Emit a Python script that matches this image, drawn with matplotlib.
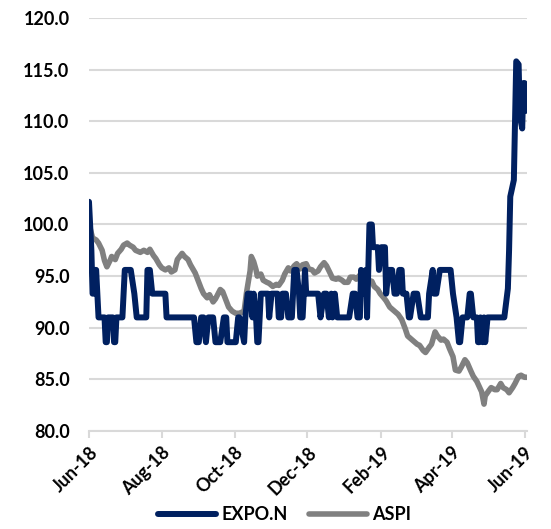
import pandas as pd
import matplotlib
matplotlib.use("Agg")
import matplotlib.pyplot as plt
import matplotlib.dates as mdates

plt.rcParams["font.family"] = ["Lato", "DejaVu Sans"]
plt.rcParams["font.weight"] = "bold"

START = pd.Timestamp("2018-06-01")

# EXPO.N price, days since 1 Jun 2018
expo_day = [0, 2, 3, 4, 5, 6, 7, 8, 13, 14, 15, 16, 20, 21, 22, 23, 28, 30, 35, 38,
            40, 48, 49, 51, 53, 64, 65, 88, 90, 92, 94, 96, 98, 100, 104, 106, 110, 113,
            115, 116, 123, 125, 126, 130, 131, 133, 136, 137, 138, 140, 141, 142, 144,
            150, 151, 153, 158, 159, 161, 162, 165, 167, 168, 170, 172, 174, 176, 177,
            179, 181, 182, 192, 194, 197, 199, 201, 203, 204, 206, 208, 216, 218, 221,
            223, 225, 227, 228, 230, 232, 233, 235, 237, 238, 242, 243, 245, 248, 249,
            251, 254, 256, 258, 260, 262, 263, 266, 268, 269, 272, 275, 278, 284, 285,
            288, 289, 291, 294, 303, 305, 308, 310, 311, 313, 317, 319, 320, 322, 325,
            326, 327, 328, 330, 331, 332, 334, 348, 351, 352, 353, 356, 357, 358, 360,
            361, 363, 364, 365, 366, 367]
expo_val = [102.2, 97.5, 93.3, 93.3, 95.6, 95.6, 93.3, 91.0, 91.0, 88.6, 88.6, 91.0,
            91.0, 88.6, 88.6, 91.0, 91.0, 95.6, 95.6, 93.3, 91.0, 91.0, 95.6, 95.6,
            93.3, 93.3, 91.0, 91.0, 88.6, 88.6, 91.0, 91.0, 88.6, 91.0, 91.0, 88.6,
            88.6, 91.0, 91.0, 88.6, 88.6, 91.0, 91.0, 88.6, 91.0, 93.3, 93.3, 91.0,
            93.3, 91.0, 88.6, 88.6, 93.3, 93.3, 91.0, 93.3, 93.3, 91.0, 91.0, 93.3,
            93.3, 91.0, 91.0, 91.0, 95.6, 95.6, 93.3, 91.0, 91.0, 95.6, 93.3, 93.3,
            91.0, 93.3, 93.3, 91.0, 93.3, 91.0, 93.3, 91.0, 91.0, 91.0, 93.3, 93.3,
            91.0, 91.0, 95.6, 93.3, 95.6, 91.0, 100.0, 100.0, 97.8, 97.8, 95.6, 97.8,
            97.8, 93.3, 95.6, 95.6, 93.3, 93.3, 95.6, 95.6, 93.3, 93.3, 91.0, 91.0,
            93.3, 93.3, 91.0, 91.0, 93.3, 95.6, 93.3, 93.3, 95.6, 95.6, 93.3, 91.0,
            88.6, 88.6, 91.0, 91.0, 93.3, 93.3, 91.0, 91.0, 88.6, 88.6, 91.0, 88.6,
            91.0, 88.6, 91.0, 91.0, 93.8, 97.5, 102.7, 104.3, 110.0, 115.8, 115.5,
            110.5, 109.3, 113.7, 113.7, 111.0, 113.5]

# ASPI, rebased, days since 1 Jun 2018
aspi_day = [0, 1, 3, 6, 8, 11, 13, 15, 18, 19, 22, 24, 27, 29, 32, 34, 37, 39, 43, 46,
            49, 51, 54, 56, 59, 61, 64, 67, 69, 72, 74, 78, 80, 83, 85, 89, 91, 94, 96,
            99, 101, 104, 106, 110, 112, 115, 117, 120, 123, 126, 130, 132, 135, 136,
            138, 140, 141, 144, 146, 149, 151, 154, 157, 159, 162, 164, 167, 169, 172,
            174, 177, 179, 182, 184, 187, 189, 192, 194, 197, 199, 202, 204, 207, 209,
            212, 214, 217, 219, 222, 224, 227, 229, 232, 234, 237, 239, 242, 244, 247,
            249, 252, 254, 257, 259, 262, 265, 267, 270, 272, 275, 277, 280, 282, 285,
            287, 290, 292, 295, 297, 300, 302, 305, 307, 310, 312, 315, 317, 320, 322,
            325, 327, 329, 331, 332, 335, 337, 340, 342, 345, 347, 350, 352, 355, 357,
            360, 362, 365, 367]
aspi_val = [100.0, 99.6, 98.7, 98.5, 98.2, 97.5, 96.5, 95.9, 96.6, 96.9, 96.6, 97.2,
            97.6, 98.0, 98.2, 98.0, 97.8, 97.5, 97.3, 97.5, 97.3, 97.6, 97.0, 96.7,
            96.1, 95.8, 95.6, 95.8, 95.4, 95.6, 96.6, 97.2, 96.9, 96.6, 96.1, 95.3,
            94.7, 93.8, 93.3, 92.9, 93.2, 92.5, 92.8, 93.7, 93.5, 92.6, 92.0, 91.6,
            91.4, 91.4, 91.6, 93.4, 95.5, 96.9, 96.4, 95.6, 95.0, 95.2, 94.6, 94.4,
            94.3, 94.0, 94.2, 94.1, 94.6, 95.2, 95.8, 95.5, 96.0, 96.2, 95.7, 96.1,
            96.2, 95.7, 95.6, 95.3, 95.5, 95.9, 96.3, 96.0, 95.3, 94.8, 94.7, 94.8,
            94.6, 94.4, 94.4, 94.9, 94.9, 94.7, 95.1, 95.0, 94.7, 94.6, 94.5, 94.0,
            93.7, 93.3, 92.9, 92.6, 92.0, 91.8, 91.5, 91.3, 90.8, 89.9, 89.2, 88.9,
            88.7, 88.4, 88.3, 87.8, 87.6, 88.1, 88.4, 89.6, 89.2, 88.8, 88.9, 88.6,
            88.0, 87.2, 85.9, 85.8, 86.2, 86.9, 86.6, 85.8, 85.3, 84.8, 84.3, 83.8,
            82.6, 83.4, 83.9, 84.2, 84.0, 84.0, 84.6, 84.2, 84.0, 83.7, 84.2, 84.6,
            85.3, 85.4, 85.2, 85.2]

y_ticks = [80, 85, 90, 95, 100, 105, 110, 115, 120]

expo_dates = START + pd.to_timedelta(expo_day, unit="D")
aspi_dates = START + pd.to_timedelta(aspi_day, unit="D")

fig = plt.figure(figsize=(5.51, 5.29), dpi=100)
ax = fig.add_axes([0.1615, 0.1853, 0.7949, 0.7807])

grid_col = "#d9d9d9"
ax.plot(expo_dates, expo_val, color="#002060", lw=4.3, label="EXPO.N",
        solid_joinstyle="round", solid_capstyle="round", zorder=3)
ax.plot(aspi_dates, aspi_val, color="#808080", lw=4.0, label="ASPI",
        solid_joinstyle="round", solid_capstyle="round", zorder=2)

ax.set_ylim(80, 120)
ax.set_yticks(y_ticks)
ax.set_yticklabels([f"{v:.1f}" for v in y_ticks])
ax.set_xlim(START, START + pd.Timedelta(days=367))
ax.xaxis.set_major_locator(mdates.MonthLocator(bymonth=[2, 4, 6, 8, 10, 12]))
ax.xaxis.set_major_formatter(mdates.DateFormatter("%b-%y"))

ax.grid(axis="y", color=grid_col, lw=1.5)
ax.set_axisbelow(True)
for side in ["top", "right", "left"]:
    ax.spines[side].set_visible(False)
ax.spines["bottom"].set_color(grid_col)
ax.spines["bottom"].set_linewidth(1.5)

ax.tick_params(axis="y", length=0, pad=14, labelsize=13)
ax.tick_params(axis="x", length=5, width=1.5, color=grid_col, pad=4, labelsize=13)
for lbl in ax.get_xticklabels():
    lbl.set_rotation(45)
    lbl.set_ha("right")
    lbl.set_va("top")
    lbl.set_rotation_mode("anchor")
for lbl in ax.get_xticklabels() + ax.get_yticklabels():
    lbl.set_fontweight("bold")

fig.legend(loc="center", bbox_to_anchor=(0.517, 0.027), ncol=2, frameon=False,
           prop={"size": 13, "weight": "bold"}, handlelength=3.2,
           handletextpad=0.3, columnspacing=1.2)

fig.savefig("out.png", dpi=100)
